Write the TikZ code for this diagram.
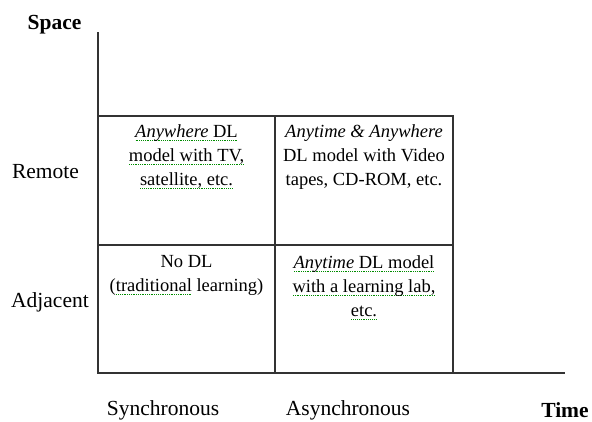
\documentclass[tikz,border=0pt]{standalone}
\usepackage{fontspec}
\setmainfont{Liberation Serif}
\usepackage{xcolor}
\usepackage{tikz}
\usetikzlibrary{positioning}

% dotted green spell-check mark under a word
\newsavebox{\spellbox}
\newcommand{\spellmark}[1]{\sbox{\spellbox}{#1}%
  \rlap{\raisebox{-3.4pt}{\color{green!55!black}\hbox to \wd\spellbox{\xleaders\hbox to 1.8pt{\hss\rule{1pt}{0.9pt}\hss}\hfill}}}%
  \usebox{\spellbox}}

\begin{document}
\begin{tikzpicture}[x=1pt, y=-1pt,
  gridline/.style={line width=1.7pt, black!80},
  axislabel/.style={font=\fontsize{21.5}{25}\selectfont, inner sep=0pt},
  celltext/.style={font=\fontsize{18.5}{24}\selectfont, align=center, anchor=north, inner sep=0pt}]
\useasboundingbox (0,0) rectangle (592,421);

% Corners of the grid
\coordinate (top) at (98,32);
\coordinate (origin) at (98,373);
\coordinate (xend) at (565,373);
\coordinate (tl) at (98,116);
\coordinate (tm) at (275,116);
\coordinate (tr) at (453,116);
\coordinate (ml) at (98,245);
\coordinate (mr) at (453,245);
\coordinate (bm) at (275,373);
\coordinate (br) at (453,373);

% Axes
\draw[gridline] (top) -- (origin) -- (xend);

% Cells
\draw[gridline] (tl) -- (tr) -- (br);
\draw[gridline] (ml) -- (mr);
\draw[gridline] (tm) -- (bm);

% Axis labels
\node[axislabel, font=\fontsize{21.5}{25}\selectfont\bfseries] (space) at (54.5,25) {Space};
\node[axislabel] (remote) at (45.5,172) {Remote};
\node[axislabel] (adjacent) at (50,302) {Adjacent};
\node[axislabel] (sync) at (163,410) {Synchronous};
\node[axislabel] (async) at (348,410) {Asynchronous};
\node[axislabel, font=\fontsize{21.5}{25}\selectfont\bfseries] (time) at (565,410) {Time};

% Cell texts
\node[celltext] (anywhere) at (186.5,124.5) {\spellmark{\textit{Anywhere} DL}\\ \spellmark{model with TV,}\\ \spellmark{satellite, etc.}};
\node[celltext] (both) at (364,124.5) {\textit{Anytime \& Anywhere}\\ DL model with Video\\ tapes, CD-ROM, etc.};
\node[celltext] (nodl) at (186.5,255) {No DL\\ (\spellmark{traditional} learning)};
\node[celltext] (anytime) at (364,255) {\spellmark{\textit{Anytime} DL model}\\ \spellmark{with a learning lab,}\\ \spellmark{etc.}};
\end{tikzpicture}
\end{document}
